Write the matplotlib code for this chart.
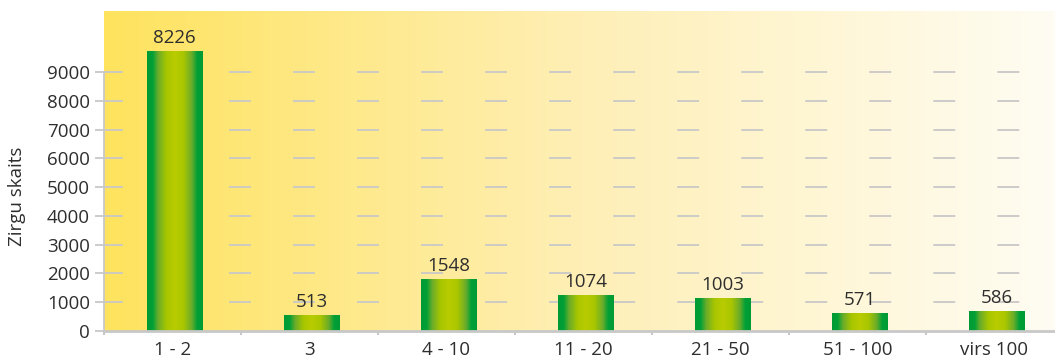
import numpy as np
import matplotlib
matplotlib.use("Agg")
import matplotlib.pyplot as plt
from matplotlib.colors import LinearSegmentedColormap

# herd size groups and number of farms (labels), bar heights as drawn in the picture
groups = ["1 - 2", "3", "4 - 10", "11 - 20", "21 - 50", "51 - 100", "virs 100"]
counts = [8226, 513, 1548, 1074, 1003, 571, 586]
bar_heights = [9720, 555, 1795, 1250, 1146, 625, 670]
yticks = [0, 1000, 2000, 3000, 4000, 5000, 6000, 7000, 8000, 9000]

plt.rcParams["font.family"] = ["Open Sans", "DejaVu Sans"]
plt.rcParams["lines.scale_dashes"] = False
text_col = "#2e2e2e"
grey = "#c8c8c8"

W, H = 1055, 358
fig = plt.figure(figsize=(W / 100, H / 100), dpi=100)
ax = fig.add_axes([104 / W, 27 / H, 959 / W, 320 / H])
ax.set_facecolor("none")

# background gradient yellow -> cream
bg = LinearSegmentedColormap.from_list("bg", ["#ffe35e", "#feefb6", "#fffdf4"])
ax.imshow(np.linspace(0, 1, 256).reshape(1, -1), cmap=bg, aspect="auto",
          extent=(0, 1, 0, 1), transform=ax.transAxes, zorder=0)

# short dashed gridlines
for t in yticks[1:]:
    ax.axhline(t, color=grey, lw=1.3, linestyle=(2.2, (15.8, 30.3)), zorder=1)

x = np.arange(len(groups))
bars = ax.bar(x + 0.015, bar_heights, width=0.405, color="none", zorder=2)

barcmap = LinearSegmentedColormap.from_list(
    "bar", [(0.0, "#009a35"), (0.1, "#00a036"), (0.2, "#6aac2a"),
            (0.35, "#a8c600"), (0.5, "#b8cc00"), (0.65, "#aac600"),
            (0.8, "#6aac2a"), (0.9, "#00a036"), (1.0, "#009a35")])
grad = np.linspace(0, 1, 256).reshape(1, -1)
for b, c in zip(bars, counts):
    x0 = b.get_x()
    ax.imshow(grad, cmap=barcmap, aspect="auto",
              extent=(x0, x0 + b.get_width(), 0, b.get_height()), zorder=3)
    ax.annotate(str(c), (x0 + b.get_width() / 2, b.get_height()),
                xytext=(0, 6), textcoords="offset points", ha="center",
                va="baseline", fontsize=13.5, color=text_col, zorder=4)

ax.set_xlim(-0.5, len(groups) - 0.5)
ax.set_ylim(0, 11120)

ax.set_xticks(x)
ax.set_xticklabels(groups)
ax.set_xticks(np.arange(len(groups) + 1) - 0.5, minor=True)
ax.tick_params(axis="x", which="major", length=0, pad=7, labelsize=13.5, labelcolor=text_col)
ax.tick_params(axis="x", which="minor", length=3, width=1.5, color=grey)
ax.set_yticks(yticks)
ax.tick_params(axis="y", length=6.5, width=1.3, color=grey, pad=3.5,
               labelsize=13.5, labelcolor=text_col)

for s in ["top", "right"]:
    ax.spines[s].set_visible(False)
ax.spines["left"].set_bounds(0, 9000)
ax.spines["left"].set_color(grey)
ax.spines["left"].set_linewidth(1.3)
ax.spines["bottom"].set_color(grey)
ax.spines["bottom"].set_linewidth(2)
ax.spines["left"].set_zorder(5)
ax.spines["bottom"].set_zorder(5)

fig.text(17 / W, 1 - 196 / H, "Zirgu skaits", rotation=90, ha="center",
         va="center", fontsize=13.5, color=text_col)

fig.savefig("out.png", dpi=100)
